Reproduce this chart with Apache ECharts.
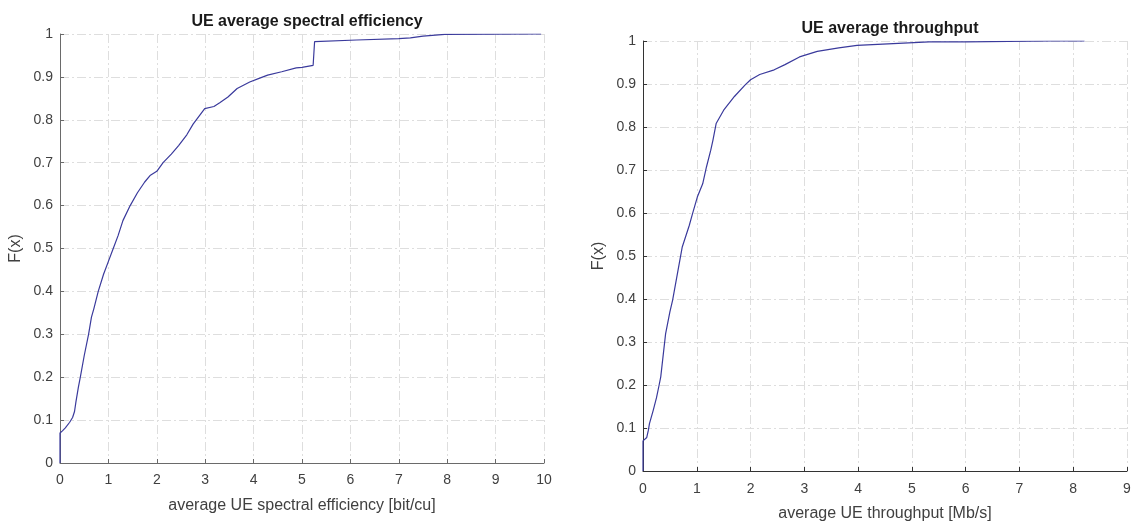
<!DOCTYPE html>
<html>
<head>
<meta charset="utf-8">
<script src="https://cdn.jsdelivr.net/npm/echarts@6/dist/echarts.min.js"></script>
<style>
html,body{margin:0;padding:0;background:#fff;}
#chart{width:1134px;height:528px;}
</style>
</head>
<body>
<div id="chart"></div>
<script>
// Left panel: CDF of UE average spectral efficiency [bit/cu]
const seX = [0,0,0.05,0.11,0.2,0.26,0.3,0.33,0.38,0.42,0.5,0.59,0.65,0.7,0.79,0.9,1.0,1.1,1.2,1.3,1.45,1.6,1.75,1.86,2.0,2.13,2.3,2.45,2.62,2.75,2.99,3.18,3.3,3.47,3.66,3.92,4.1,4.29,4.58,4.88,5.0,5.23,5.26,5.26,6.13,7.0,7.24,7.5,7.95,9.94];
const seF = [0,0.07,0.075,0.082,0.095,0.106,0.12,0.143,0.177,0.2,0.25,0.3,0.34,0.36,0.4,0.44,0.47,0.5,0.53,0.565,0.6,0.63,0.655,0.67,0.68,0.7,0.72,0.74,0.765,0.79,0.826,0.831,0.84,0.853,0.873,0.888,0.896,0.904,0.912,0.921,0.922,0.927,0.927,0.982,0.986,0.989,0.991,0.995,0.999,1.0];
// Right panel: CDF of UE average throughput [Mb/s]
const tpX = [0,0,0.03,0.07,0.1,0.12,0.19,0.25,0.3,0.33,0.42,0.5,0.55,0.64,0.73,0.86,0.92,1.01,1.11,1.18,1.26,1.3,1.36,1.5,1.7,1.9,2.0,2.17,2.44,2.64,2.91,3.24,3.64,3.98,4.65,5.32,6.0,7.6,8.21];
const tpF = [0,0.07,0.072,0.078,0.095,0.11,0.141,0.17,0.2,0.219,0.319,0.37,0.397,0.459,0.521,0.571,0.598,0.637,0.668,0.707,0.746,0.769,0.808,0.839,0.871,0.898,0.91,0.922,0.933,0.945,0.963,0.976,0.984,0.99,0.994,0.998,0.998,1.0,1.0];
const titles = ['UE average spectral efficiency', 'UE average throughput'];
const xNames = ['average UE spectral efficiency [bit/cu]', 'average UE throughput [Mb/s]'];
const yName = 'F(x)';
const xMax = [10, 9];

const FONT = 'Liberation Sans, Arial, sans-serif';
const zip = (a, b) => a.map((v, i) => [v, b[i]]);
const gridLine = {show: true, lineStyle: {color: '#dedede', width: 1, type: [9, 3, 2, 3]}};

function xAxis(i, axisColor, labelMargin) {
  return {
    type: 'value', gridIndex: i, min: 0, max: xMax[i], interval: 1,
    name: xNames[i], nameLocation: 'middle', nameGap: 35,
    nameTextStyle: {fontFamily: FONT, fontSize: 16, color: '#404040'},
    axisLine: {show: true, lineStyle: {color: axisColor, width: 1}},
    axisTick: {show: true, inside: true, length: 4, lineStyle: {color: axisColor}},
    axisLabel: {fontFamily: FONT, fontSize: 14, color: '#404040', margin: labelMargin},
    splitLine: gridLine
  };
}
function yAxis(i, axisColor) {
  return {
    type: 'value', gridIndex: i, min: 0, max: 1, interval: 0.1,
    name: yName, nameLocation: 'middle', nameGap: 36,
    nameTextStyle: {fontFamily: FONT, fontSize: 16, color: '#404040'},
    axisLine: {show: true, lineStyle: {color: axisColor, width: 1}},
    axisTick: {show: true, inside: true, length: 4, lineStyle: {color: axisColor}},
    axisLabel: {fontFamily: FONT, fontSize: 14, color: '#404040', margin: 7,
      formatter: v => String(Math.round(v * 10) / 10)},
    splitLine: gridLine
  };
}

const chart = echarts.init(document.getElementById('chart'), null, {renderer: 'canvas'});
chart.setOption({
  animation: false,
  backgroundColor: '#ffffff',
  title: [
    {text: titles[0], left: 302, top: 9, textAlign: 'center',
     textStyle: {fontFamily: FONT, fontSize: 16, fontWeight: 'bold', color: '#1a1a1a'}},
    {text: titles[1], left: 885, top: 16, textAlign: 'center',
     textStyle: {fontFamily: FONT, fontSize: 16, fontWeight: 'bold', color: '#1a1a1a'}}
  ],
  grid: [
    {left: 60, top: 34, width: 484, height: 429},
    {left: 643, top: 41, width: 484, height: 430}
  ],
  xAxis: [xAxis(0, '#6a6a6a', 10), xAxis(1, '#333333', 11)],
  yAxis: [yAxis(0, '#6a6a6a'), yAxis(1, '#333333')],
  series: [
    {type: 'line', xAxisIndex: 0, yAxisIndex: 0, data: zip(seX, seF), showSymbol: false,
     lineStyle: {color: '#3a3a9c', width: 1.2}},
    {type: 'line', xAxisIndex: 1, yAxisIndex: 1, data: zip(tpX, tpF), showSymbol: false,
     lineStyle: {color: '#3a3a9c', width: 1.2}}
  ]
});
</script>
</body>
</html>
